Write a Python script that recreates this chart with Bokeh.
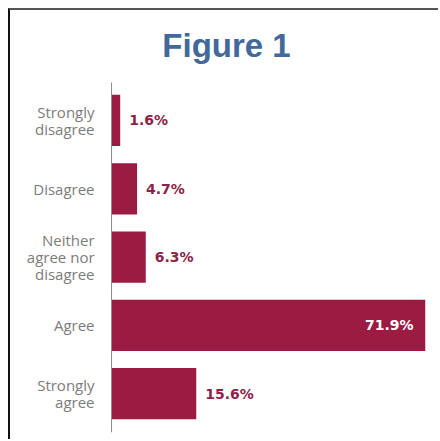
from bokeh.plotting import figure
from bokeh.models import Range1d, ColumnDataSource, Label
from bokeh.core.properties import value
from bokeh.embed import file_html
from bokeh.resources import INLINE

# ---- data ----
categories = ["Strongly disagree", "Disagree", "Neither agree nor disagree", "Agree", "Strongly agree"]
category_labels = ["Strongly\ndisagree", "Disagree", "Neither\nagree nor\ndisagree", "Agree", "Strongly\nagree"]
percentages = [1.6, 4.7, 6.3, 71.9, 15.6]
value_labels = ["1.6%", "4.7%", "6.3%", "71.9%", "15.6%"]
title_text = "Figure 1"

# ---- styles ----
BAR_COLOR = "#9b1b42"
LABEL_COLOR = "#8c2347"
CAT_COLOR = "#7c7c7c"
TITLE_COLOR = "#41699b"
X_START, X_END = -18.6, 57.8
Y_BOTTOM, Y_TOP = 4.568, -1.61      # rows counted top-down
AXIS_TOP = -0.556
W, H = 430, 431

# row position of each category (0 = top row)
rows = list(range(len(categories)))

p = figure(width=W, height=H, output_backend="svg", toolbar_location=None,
           y_range=Range1d(Y_BOTTOM, Y_TOP), x_range=Range1d(X_START, X_END),
           min_border_left=0, min_border_right=W - 415, min_border_top=0,
           min_border_bottom=H - 422)
p.styles = {"margin-left": "8px", "margin-top": "8px",
            "border-top": "2px solid #555", "border-left": "2px solid #111"}

p.add_layout(Label(x=214, y=33, x_units="canvas", y_units="canvas", text=title_text,
                   text_align="center", text_baseline="alphabetic",
                   text_font="Liberation Sans", text_font_size="33px",
                   text_font_style="bold", text_color=TITLE_COLOR))

p.axis.visible = False
p.grid.visible = False
p.outline_line_color = None
p.background_fill_color = "white"
p.border_fill_color = "white"

src = ColumnDataSource(dict(row=rows, cat=categories, pct=percentages, lab=category_labels))
p.hbar(y="row", left=0, right="pct", height=0.75, source=src,
       fill_color=BAR_COLOR, line_color=None)

# value axis line (no ticks)
p.segment(x0=0, x1=0, y0=AXIS_TOP, y1=Y_BOTTOM, line_color="#8a8a8a", line_width=1)

p.text(x=0, y="row", text="lab", source=src, x_offset=-17,
       text_align="right", text_baseline="middle", text_font=value("Open Sans"),
       text_font_size="15px", text_color=CAT_COLOR, text_line_height=0.87)

out_idx = [i for i, v in enumerate(percentages) if v <= X_END]
in_idx = [i for i, v in enumerate(percentages) if v > X_END]
src_out = ColumnDataSource(dict(row=[rows[i] for i in out_idx],
                                x=[percentages[i] for i in out_idx],
                                t=[value_labels[i] for i in out_idx]))
src_in = ColumnDataSource(dict(row=[rows[i] for i in in_idx],
                               x=[X_END for i in in_idx],
                               t=[value_labels[i] for i in in_idx]))
p.text(x="x", y="row", text="t", source=src_out, x_offset=9, text_align="left",
       text_baseline="middle", text_font=value("DejaVu Sans"), text_font_style="bold",
       text_font_size="14px", text_color=LABEL_COLOR)
p.text(x="x", y="row", text="t", source=src_in, x_offset=-12, text_align="right",
       text_baseline="middle", text_font=value("DejaVu Sans"), text_font_style="bold",
       text_font_size="14px", text_color="white")

open("out.html", "w").write(file_html(p, INLINE))
